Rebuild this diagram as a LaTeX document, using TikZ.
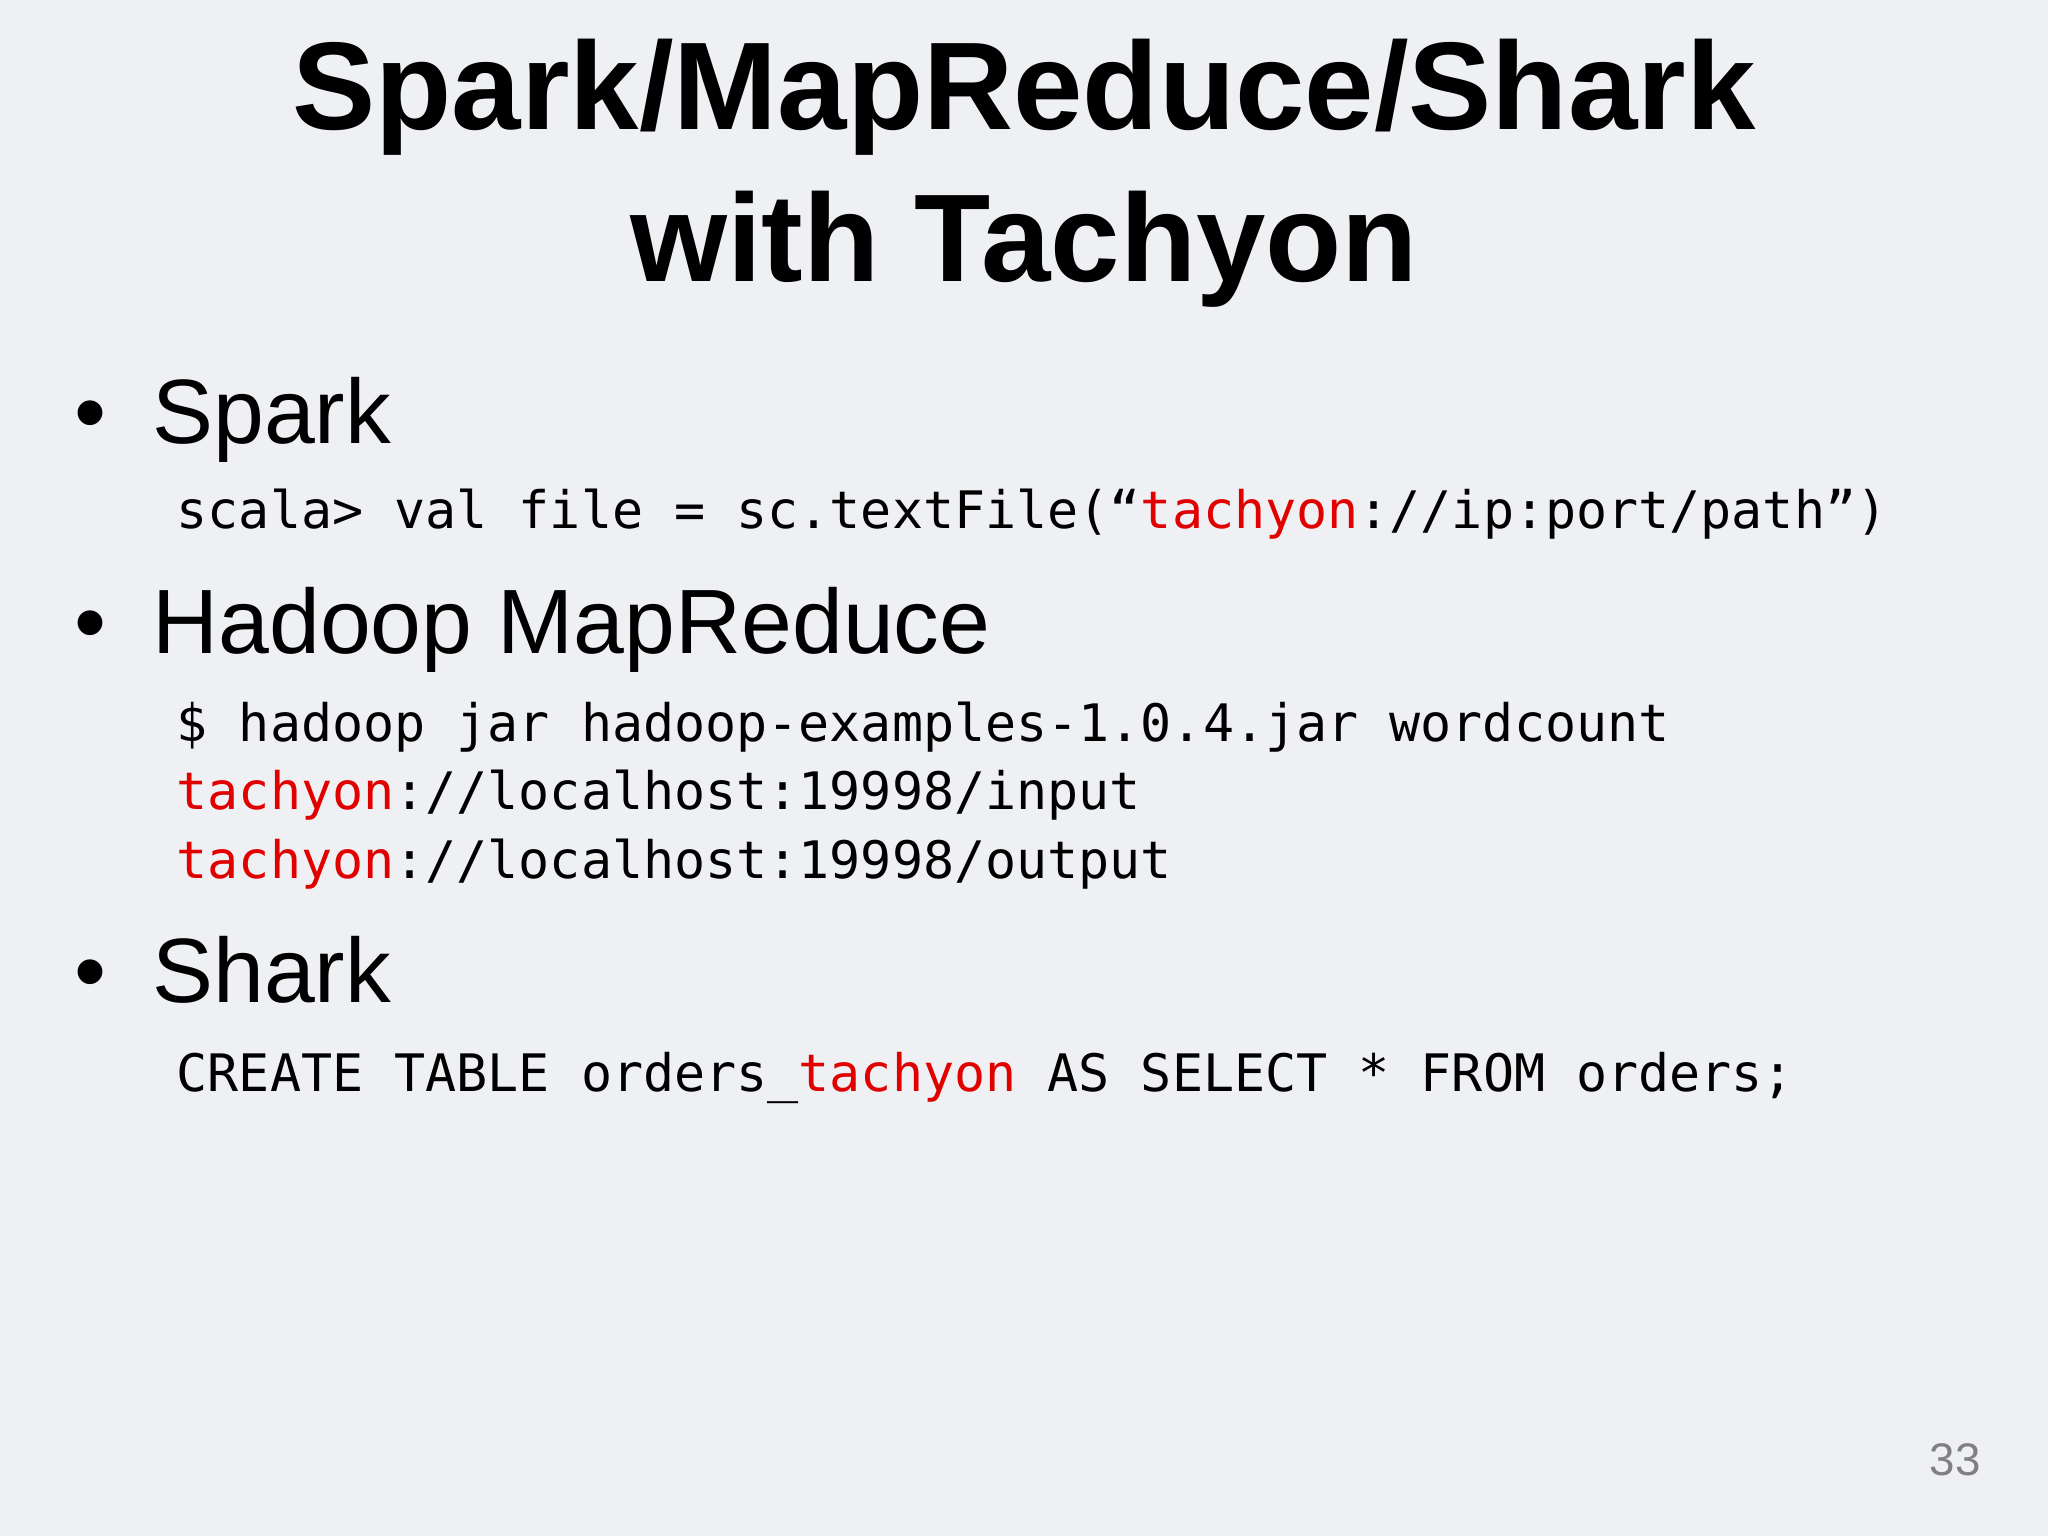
\documentclass[tikz,border=0pt]{standalone}
\usepackage{fontspec}
\setmainfont{Liberation Sans}
\newfontfamily\codefont{DejaVu Sans Mono}
\definecolor{bgc}{HTML}{EEF0F3}
\definecolor{tred}{HTML}{E00000}
\begin{document}
\begin{tikzpicture}[x=1cm,y=-1cm,
  ttl/.style={font=\fontsize{35.5}{40}\selectfont\bfseries, anchor=base},
  bul/.style={font=\fontsize{26}{30}\selectfont, anchor=base west},
  dot/.style={font=\fontsize{26}{30}\selectfont, anchor=base west},
  code/.style={font=\codefont\fontsize{14.7}{17}\selectfont, anchor=base west, inner sep=0pt}]
\fill[bgc] (0,0) rectangle (20.48,15.36);
\useasboundingbox (0,0) rectangle (20.48,15.36);
\node[ttl] (t1) at (10.24,1.30) {Spark/MapReduce/Shark};
\node[ttl] (t2) at (10.24,2.82) {with Tachyon};
\node[dot] (b1) at (0.62,4.44) {•};
\node[bul] (s1) at (1.40,4.44) {Spark};
\node[code] (c1) at (1.76,5.29) {scala> val file = sc.textFile(“\textcolor{tred}{tachyon}://ip:port/path”)};
\node[dot] (b2) at (0.62,6.53) {•};
\node[bul] (s2) at (1.40,6.53) {Hadoop MapReduce};
\node[code] (c2) at (1.76,7.42) {\$ hadoop jar hadoop-examples-1.0.4.jar wordcount};
\node[code] (c3) at (1.76,8.10) {\textcolor{tred}{tachyon}://localhost:19998/input};
\node[code] (c4) at (1.76,8.78) {\textcolor{tred}{tachyon}://localhost:19998/output};
\node[dot] (b3) at (0.62,10.03) {•};
\node[bul] (s3) at (1.40,10.03) {Shark};
\node[code] (c5) at (1.76,10.91) {CREATE TABLE orders\_\textcolor{tred}{tachyon} AS SELECT * FROM orders;};
\node[font=\fontsize{13}{15}\selectfont, text=gray, anchor=base] (pn) at (19.55,14.75) {33};
\end{tikzpicture}
\end{document}
